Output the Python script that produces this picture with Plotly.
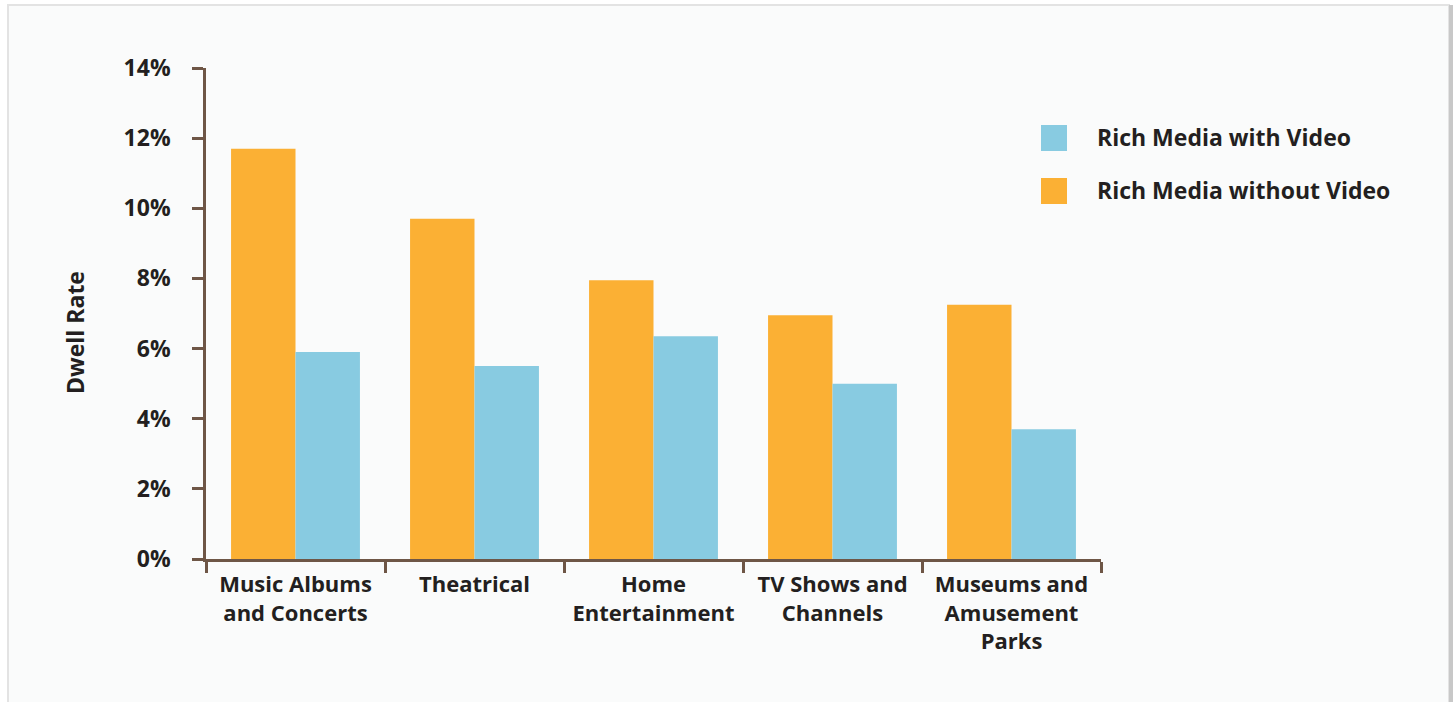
import plotly.graph_objects as go

# Dwell rate by entertainment vertical, split by rich-media format
categories = [
    "Music Albums<br>and Concerts",
    "Theatrical",
    "Home<br>Entertainment",
    "TV Shows and<br>Channels",
    "Museums and<br>Amusement<br>Parks",
]
without_video = [11.7, 9.7, 7.95, 6.95, 7.25]
with_video = [5.9, 5.5, 6.35, 5.0, 3.7]
y_ticks = [0, 2, 4, 6, 8, 10, 12, 14]
y_tick_labels = [f"{v}%" for v in y_ticks]

ORANGE = "#FBB034"
BLUE = "#88CBE1"
AXIS = "#6E5646"
TEXT = "#231F20"
FONT = "Open Sans"

W, H = 1455, 702
L, R, T, B = 206, 354, 68, 143
pw, ph = W - L - R, H - T - B


def px(x):
    return (x - L) / pw


def py(y):
    return (H - B - y) / ph


fig = go.Figure()
fig.add_bar(x=categories, y=without_video, name="Rich Media without Video",
            marker=dict(color=ORANGE, line=dict(width=0)), showlegend=False)
fig.add_bar(x=categories, y=with_video, name="Rich Media with Video",
            marker=dict(color=BLUE, line=dict(width=0)), showlegend=False)

# Panel frame behind the chart
shapes = [
    dict(type="rect", xref="paper", yref="paper", layer="below",
         x0=px(8), x1=px(1449), y0=py(720), y1=py(5),
         fillcolor="#FAFBFB", line=dict(color="#E3E3E3", width=2)),
    dict(type="line", xref="paper", yref="paper", layer="below",
         x0=px(1451), x1=px(1451), y0=py(720), y1=py(5),
         line=dict(color="#C8C8C8", width=4)),
]

# Legend: swatches and labels
legend_items = [("Rich Media with Video", BLUE), ("Rich Media without Video", ORANGE)]
annotations = []
for i, (label, color) in enumerate(legend_items):
    top = 125 + i * 53
    shapes.append(dict(type="rect", xref="paper", yref="paper",
                       x0=px(1041), x1=px(1067), y0=py(top + 26), y1=py(top),
                       fillcolor=color, line=dict(width=0)))
    annotations.append(dict(xref="paper", yref="paper", x=px(1095), y=py(top + 12),
                            text=f"<b>{label}</b>", showarrow=False,
                            xanchor="left", yanchor="middle",
                            font=dict(family=FONT, size=23, color=TEXT)))

annotations.append(dict(xref="paper", yref="paper", x=px(75), y=py(333),
                        text="<b>Dwell Rate</b>", showarrow=False, textangle=-90,
                        xanchor="center", yanchor="middle",
                        font=dict(family=FONT, size=23, color=TEXT)))

fig.update_layout(
    width=W, height=H,
    margin=dict(l=L, r=R, t=T, b=B),
    paper_bgcolor="white",
    plot_bgcolor="rgba(0,0,0,0)",
    barmode="group",
    bargap=0.28,
    bargroupgap=0,
    shapes=shapes,
    annotations=annotations,
    font=dict(family=FONT, color=TEXT),
)

fig.update_xaxes(
    range=[-0.5, 4.5],
    showline=True, linecolor=AXIS, linewidth=2.5,
    ticks="outside", ticklen=11, tickwidth=2.5, tickcolor=AXIS,
    tickson="boundaries",
    ticklabelstandoff=4,
    tickfont=dict(family=FONT, size=22, color=TEXT, weight="bold"),
    showgrid=False, zeroline=False,
)
fig.update_yaxes(
    range=[0, 14],
    tickvals=y_ticks, ticktext=y_tick_labels,
    showline=True, linecolor=AXIS, linewidth=2.5,
    ticks="outside", ticklen=11, tickwidth=2.5, tickcolor=AXIS,
    ticklabelstandoff=17,
    tickfont=dict(family=FONT, size=23, color=TEXT, weight="bold"),
    showgrid=False, zeroline=False,
)

fig.write_html("out.html")
